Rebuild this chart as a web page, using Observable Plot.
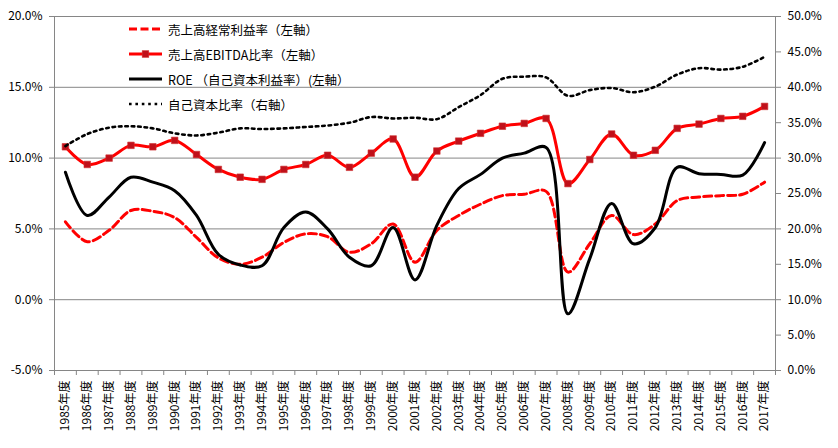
<!DOCTYPE html>
<html>
<head>
<meta charset="utf-8">
<script src="https://cdn.jsdelivr.net/npm/d3@7"></script>
<script src="https://cdn.jsdelivr.net/npm/@observablehq/plot@0.6"></script>
<style>
  html, body { margin: 0; padding: 0; background: #fff; }
  #wrap { position: relative; width: 838px; height: 448px; font-family: "Noto Sans CJK JP", "Noto Sans", sans-serif; }
  #legend { position: absolute; left: 0; top: 0; pointer-events: none; }
  .row { position: absolute; left: 129px; height: 16px; display: flex; align-items: center; font-size: 12.5px; color: #000; white-space: nowrap; }
  .row svg { margin-right: 6px; }
</style>
</head>
<body>
<div id="wrap"><div id="legend"></div></div>
<script>
const years = [1985,1986,1987,1988,1989,1990,1991,1992,1993,1994,1995,1996,1997,1998,1999,2000,2001,2002,2003,2004,2005,2006,2007,2008,2009,2010,2011,2012,2013,2014,2015,2016,2017];
// 売上高経常利益率 (%), left axis
const keijo = [5.5,4.1,4.9,6.3,6.25,5.8,4.4,2.95,2.5,3.0,4.05,4.65,4.45,3.35,3.95,5.35,2.65,4.9,5.95,6.75,7.35,7.45,7.65,1.95,3.95,5.95,4.6,5.35,7.0,7.25,7.35,7.45,8.3];
// 売上高EBITDA比率 (%), left axis
const ebitda = [10.8,9.55,10.0,10.9,10.8,11.25,10.25,9.2,8.65,8.5,9.2,9.55,10.2,9.35,10.35,11.35,8.65,10.5,11.2,11.75,12.25,12.45,12.8,8.2,9.9,11.7,10.2,10.55,12.1,12.4,12.8,12.95,13.65];
// ROE (%), left axis
const roe = [9.0,5.95,7.25,8.65,8.3,7.7,5.95,3.2,2.45,2.4,5.1,6.2,5.0,3.0,2.4,5.1,1.4,5.25,7.85,8.85,10.0,10.35,10.75,-1.0,2.9,6.8,3.95,5.1,9.35,8.9,8.85,8.8,11.1];
// 自己資本比率 (%), right axis
const equity = [31.7,33.4,34.3,34.5,34.2,33.5,33.2,33.6,34.2,34.1,34.2,34.4,34.6,35.0,35.8,35.6,35.7,35.5,37.2,38.9,41.2,41.5,41.4,38.8,39.6,39.9,39.3,40.1,41.8,42.7,42.5,42.9,44.3];

const leftTicks = [-5, 0, 5, 10, 15, 20];
const rightTicks = [0, 5, 10, 15, 20, 25, 30, 35, 40, 45, 50];
const seriesNames = ["売上高経常利益率（左軸）", "売上高EBITDA比率（左軸）", "ROE （自己資本利益率）(左軸）", "自己資本比率（右軸）"];

const toLeft = r => r / 2 - 5;
const fromLeft = l => (l + 5) * 2;

const rows = years.map((y, i) => ({year: y, keijo: keijo[i], ebitda: ebitda[i], roe: roe[i], equity: toLeft(equity[i])}));
const boundaries = [years[0] - 0.5, ...years.map(y => y + 0.5)];

const grid = "#868686";
const curve = "catmull-rom";

const chart = Plot.plot({
  width: 838,
  height: 448,
  marginLeft: 54,
  marginRight: 63,
  marginTop: 16,
  marginBottom: 78,
  style: {fontFamily: "'Noto Sans CJK JP', 'Noto Sans', sans-serif", fontSize: "12px", color: "#000", background: "#fff", overflow: "visible"},
  x: {type: "linear", domain: [boundaries[0], boundaries[boundaries.length - 1]]},
  y: {domain: [-5, 20]},
  marks: [
    Plot.ruleY(leftTicks, {stroke: grid, strokeWidth: 1}),
    Plot.ruleX([boundaries[0], boundaries[boundaries.length - 1]], {stroke: grid, strokeWidth: 1}),
    Plot.axisY({anchor: "left", ticks: leftTicks, tickSize: 5, tickPadding: 7, stroke: grid, fill: "#000", tickFormat: d => d.toFixed(1) + "%", label: null}),
    Plot.axisY({anchor: "right", ticks: rightTicks.map(toLeft), tickSize: 5, tickPadding: 7, stroke: grid, fill: "#000", tickFormat: d => fromLeft(d).toFixed(1) + "%", label: null}),
    Plot.axisX({ticks: boundaries, tickSize: 5, stroke: grid, fill: "none", label: null}),
    Plot.axisX({ticks: years, tickSize: 0, tickPadding: 10, tickRotate: -90, fill: "#000", tickFormat: d => d + "年度", label: null}),
    Plot.line(rows, {x: "year", y: "keijo", stroke: "#FF0000", strokeWidth: 3, strokeDasharray: "8,4", curve}),
    Plot.line(rows, {x: "year", y: "ebitda", stroke: "#FF0000", strokeWidth: 3, curve}),
    Plot.dot(rows, {x: "year", y: "ebitda", symbol: "square", r: 3.7, fill: "#C0101A", stroke: "#D03030", strokeWidth: 0.6}),
    Plot.line(rows, {x: "year", y: "roe", stroke: "#000", strokeWidth: 3, curve}),
    Plot.line(rows, {x: "year", y: "equity", stroke: "#000", strokeWidth: 2.6, strokeDasharray: "2.6,3.8", curve})
  ]
});
document.getElementById("wrap").prepend(chart);

// Legend
const legendTops = [29, 54, 79, 104];
const legend = d3.select("#legend");
seriesNames.forEach((name, i) => {
  const row = legend.append("div").attr("class", "row").style("top", (legendTops[i] - 8) + "px");
  const svg = row.append("svg").attr("width", 33).attr("height", 12);
  const ln = svg.append("line").attr("x1", 0).attr("x2", 33).attr("y1", 6).attr("y2", 6);
  if (i === 0) ln.attr("stroke", "#FF0000").attr("stroke-width", 3).attr("stroke-dasharray", "8,3.5");
  if (i === 1) {
    ln.attr("stroke", "#FF0000").attr("stroke-width", 3);
    svg.append("rect").attr("x", 13.2).attr("y", 2.7).attr("width", 6.6).attr("height", 6.6).attr("fill", "#C0101A").attr("stroke", "#D03030").attr("stroke-width", 0.6);
  }
  if (i === 2) ln.attr("stroke", "#000").attr("stroke-width", 3);
  if (i === 3) ln.attr("stroke", "#000").attr("stroke-width", 2.6).attr("stroke-dasharray", "2.6,3.8");
  row.append("span").text(name);
});
</script>
</body>
</html>
